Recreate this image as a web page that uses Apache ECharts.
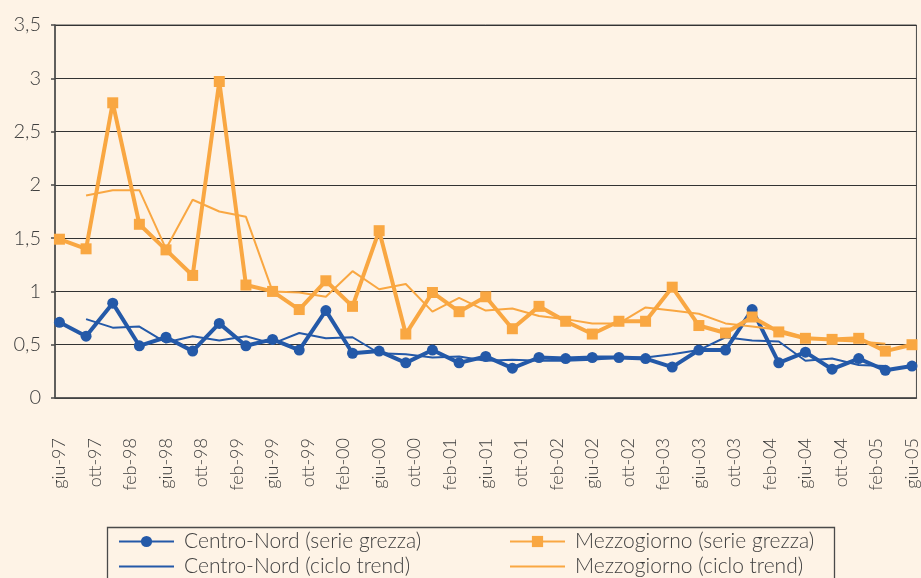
<!DOCTYPE html>
<html>
<head>
<meta charset="utf-8">
<script src="https://cdn.jsdelivr.net/npm/echarts@6/dist/echarts.min.js"></script>
<style>
  html, body { margin: 0; padding: 0; background: #fef3e6; }
  #chart { width: 921px; height: 578px; }
</style>
</head>
<body>
<div id="chart"></div>
<script>
// mesi per l'asse (mensile, da giu-97 a giu-05), etichetta ogni 4 mesi
const monthNames = ['gen', 'feb', 'mar', 'apr', 'mag', 'giu', 'lug', 'ago', 'set', 'ott', 'nov', 'dic']
const startYear = 1997, startMonth = 5, monthCount = 97
// i dati sono trimestrali: un valore ogni 3 mesi a partire da giu-97
const quarterStep = 3

const centroNordGrezza = [0.71, 0.58, 0.89, 0.49, 0.57, 0.44, 0.70, 0.49, 0.55, 0.45, 0.82, 0.42, 0.44, 0.33, 0.45, 0.33, 0.39,
  0.28, 0.38, 0.37, 0.38, 0.38, 0.37, 0.29, 0.45, 0.45, 0.83, 0.33, 0.43, 0.27, 0.37, 0.26, 0.30]
const mezzogiornoGrezza = [1.49, 1.40, 2.77, 1.63, 1.39, 1.15, 2.97, 1.06, 1.00, 0.83, 1.10, 0.86, 1.57, 0.60, 0.99, 0.81, 0.95,
  0.65, 0.86, 0.72, 0.60, 0.72, 0.72, 1.04, 0.68, 0.61, 0.76, 0.62, 0.56, 0.55, 0.56, 0.44, 0.50]
const centroNordTrend = [null, 0.74, 0.66, 0.67, 0.52, 0.58, 0.54, 0.58, 0.51, 0.61, 0.56, 0.57, 0.42, 0.41, 0.38, 0.39, 0.35,
  0.36, 0.35, 0.35, 0.36, 0.38, 0.38, 0.41, 0.45, 0.57, 0.54, 0.53, 0.35, 0.37, 0.31, 0.30, null]
const mezzogiornoTrend = [null, 1.90, 1.95, 1.95, 1.40, 1.86, 1.75, 1.70, 1.00, 0.99, 0.95, 1.19, 1.02, 1.07, 0.81, 0.94, 0.82,
  0.84, 0.77, 0.74, 0.70, 0.70, 0.85, 0.82, 0.79, 0.70, 0.67, 0.64, 0.57, 0.54, 0.53, 0.51, null]

const categories = []
for (let i = 0; i < monthCount; i++) {
  const m = (startMonth + i) % 12
  const y = (startYear + Math.floor((startMonth + i) / 12)) % 100
  categories.push(monthNames[m] + '-' + String(y).padStart(2, '0'))
}

function toPoints(arr) {
  return arr.map((v, q) => v == null ? null : [q * quarterStep, v]).filter(p => p)
}

const blue = '#2459a8'
const orange = '#f9a742'
const textColor = '#404040'
const font = 'Lato'

const legendText = { fontSize: 21, lineHeight: 21, fontFamily: font, fontWeight: 300, color: textColor, padding: [0, 0, 0, 5] }
// le serie di trend non hanno marker: nascondo il simbolo nella legenda
const noSymbol = { opacity: 0 }
const legendBase = {
  orient: 'vertical',
  top: 531,
  height: 50,
  padding: 0,
  itemWidth: 55,
  itemHeight: 14,
  itemGap: 4,
  textStyle: legendText
}

const chart = echarts.init(document.getElementById('chart'))
const option = {
  backgroundColor: '#fef3e6',
  animation: false,
  textStyle: { fontFamily: font, color: textColor },
  grid: {
    left: 55,
    top: 25,
    right: 4,
    bottom: 180,
    show: true,
    borderColor: '#4a4a4a',
    borderWidth: 1
  },
  xAxis: {
    type: 'category',
    data: categories,
    boundaryGap: true,
    axisLine: { lineStyle: { color: '#4a4a4a', width: 1.5 } },
    axisTick: { interval: 3, length: 6, lineStyle: { color: '#4a4a4a', width: 1.5 } },
    axisLabel: {
      interval: 3,
      rotate: 90,
      margin: 40,
      fontSize: 18,
      fontFamily: font,
      fontWeight: 300,
      color: textColor
    },
    splitLine: { show: false }
  },
  yAxis: {
    type: 'value',
    min: 0,
    max: 3.5,
    interval: 0.5,
    axisLine: { show: true, lineStyle: { color: '#4a4a4a', width: 1.5 } },
    axisTick: { show: true, length: 4, lineStyle: { color: '#4a4a4a', width: 1.5 } },
    axisLabel: {
      fontSize: 20,
      fontFamily: font,
      fontWeight: 300,
      color: textColor,
      margin: 14,
      formatter: v => String(v).replace('.', ',')
    },
    splitLine: { lineStyle: { color: '#333', width: 1.2 } }
  },
  legend: [Object.assign({}, legendBase, {
    left: 118,
    data: ['Centro-Nord (serie grezza)', { name: 'Centro-Nord (ciclo trend)', itemStyle: noSymbol }]
  }), Object.assign({}, legendBase, {
    left: 509,
    data: ['Mezzogiorno (serie grezza)', { name: 'Mezzogiorno (ciclo trend)', itemStyle: noSymbol }]
  })],
  graphic: [{
    type: 'rect',
    left: 105,
    top: 525,
    shape: { width: 727, height: 70 },
    style: { fill: 'none', stroke: '#4a4a4a', lineWidth: 1.3 },
    silent: true
  }],
  series: [{
    name: 'Centro-Nord (serie grezza)',
    type: 'line',
    data: toPoints(centroNordGrezza),
    symbol: 'circle',
    symbolSize: 11,
    showAllSymbol: true,
    lineStyle: { color: blue, width: 4 },
    itemStyle: { color: blue, borderWidth: 0 }
  }, {
    name: 'Mezzogiorno (serie grezza)',
    type: 'line',
    data: toPoints(mezzogiornoGrezza),
    symbol: 'rect',
    symbolSize: 11,
    showAllSymbol: true,
    lineStyle: { color: orange, width: 4 },
    itemStyle: { color: orange, borderWidth: 0 }
  }, {
    name: 'Centro-Nord (ciclo trend)',
    type: 'line',
    data: toPoints(centroNordTrend),
    symbol: 'none',
    lineStyle: { color: blue, width: 2 },
    itemStyle: { color: blue }
  }, {
    name: 'Mezzogiorno (ciclo trend)',
    type: 'line',
    data: toPoints(mezzogiornoTrend),
    symbol: 'none',
    lineStyle: { color: orange, width: 2 },
    itemStyle: { color: orange }
  }]
}
chart.setOption(option)
</script>
</body>
</html>
